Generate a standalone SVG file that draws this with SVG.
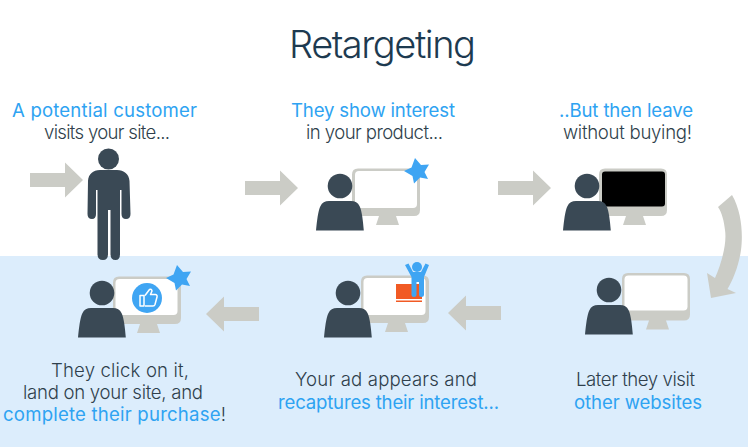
<svg xmlns="http://www.w3.org/2000/svg" xmlns:xlink="http://www.w3.org/1999/xlink" width="748" height="447" viewBox="0 0 748 447">
<style>
text{font-family:"Inter","Open Sans","Liberation Sans",sans-serif;font-weight:300;font-size:18.6px;fill:#2f3f4c}
.b{fill:#2ea3f2;font-weight:400}
.t{font-size:38px;fill:#1d3a50}
.a{fill:#cbccc6}
.p{fill:#3a4955}
.s{fill:#3fa5f3}
</style>
<defs>
<g id="arrow"><path class="a" d="M0-7H35V-17.500L53 0 35 17.500V7H0Z"/></g>
<g id="person"><circle class="p" cx="340" cy="186" r="12.300"/><path class="p" d="M316 230.500C317 221 318 211 320.500 206 322 202.500 325 201 329 201H351C355 201 358 202.500 359.500 206 362 211 363 221 363.800 230.500Z"/></g>
<g id="monitor"><path class="a" d="M358 168.500H414Q420 168.500 420 174.500V210Q420 216 414 216H396L399 225H376L379 216H358Q352 216 352 210V174.500Q352 168.500 358 168.500Z"/></g>
<path id="star" class="s" d="M415 158 421 165 429 164.500 424.500 172 428 179 420 177.500 414 183.500 412.500 176 404 171 411.500 167.500Z"/>
</defs>
<rect width="748" height="447" fill="#fff"/>
<rect y="256" width="748" height="191" fill="#dcedfc"/>
<text id="title" class="t" x="289" y="58" textLength="187">Retargeting</text>
<g id="connectors">
<use xlink:href="#arrow" x="30" y="180"/>
<use xlink:href="#arrow" x="245" y="188"/>
<use xlink:href="#arrow" x="498" y="188"/>
<path class="a" d="M718 207 732 195C742 212 743 235 741 250 739 265 733 280 727.500 289L736 293 711 298 707 273 715 278C722 262 727 243 725 230 724 221 722 213 718 207Z"/>
<use xlink:href="#arrow" transform="translate(501 313) scale(-1 1)"/>
<use xlink:href="#arrow" transform="translate(259 314) scale(-1 1)"/>
</g>
<g id="node1">
<text class="b" x="12" y="117" textLength="185">A potential customer</text>
<text x="44" y="139" textLength="126">visits your site...</text>
<circle class="p" cx="108.500" cy="159" r="10.500"/>
<path class="p" d="M100 170H117C124 170 129 174 129.500 181L130.500 214Q130.500 219 126 219 121.500 219 121.500 214V190H120V254Q120 260 115.500 260 110.500 260 110.500 254V210H108V254Q108 260 103 260 97.500 260 97.500 254V190H96V214Q96 219 92 219 87.500 219 87.500 214L88 181C88.500 174 93 170 100 170Z"/>
</g>
<g id="node2">
<text class="b" x="291" y="117" textLength="164">They show interest</text>
<text x="306" y="139" textLength="137">in your product...</text>
<use xlink:href="#monitor"/>
<rect x="355" y="171" width="62" height="37" rx="4" fill="#fff"/>
<use xlink:href="#person"/>
<use xlink:href="#star"/>
</g>
<g id="node3">
<text class="b" x="559" y="117" textLength="134">..But then leave</text>
<text x="563" y="139" textLength="129">without buying!</text>
<use xlink:href="#monitor" x="247"/>
<rect x="602" y="171.500" width="63" height="35" rx="3" fill="#000"/>
<use xlink:href="#person" x="247"/>
</g>
<g id="node4">
<text x="576" y="386" textLength="119">Later they visit</text>
<text class="b" x="574" y="409" textLength="128">other websites</text>
<use xlink:href="#monitor" x="270" y="104.500"/>
<rect x="624.500" y="275.500" width="63" height="35" rx="4" fill="#fff"/>
<use xlink:href="#person" x="269" y="104"/>
</g>
<g id="node5">
<text x="295" y="386" textLength="182">Your ad appears and</text>
<text class="b" x="278" y="409" textLength="221">recaptures their interest...</text>
<use xlink:href="#monitor" x="9" y="107"/>
<rect x="363.500" y="278" width="62" height="37" rx="4" fill="#fff"/>
<rect x="396" y="284" width="26" height="15" fill="#f15a24"/>
<rect x="396" y="300.500" width="26" height="1.500" fill="#f15a24"/>
<use xlink:href="#person" x="8" y="107"/>
<circle class="s" cx="417" cy="267" r="5"/>
<path class="s" d="M405 265 408.500 263.500 413 272H421L425.500 263.500 429 265 424 277V295Q424 297 421.500 297 419 297 419 295V282H416.500V295Q416.500 297 414 297 411.500 297 411.500 295V277Z"/>
</g>
<g id="node6">
<text x="51" y="377" textLength="138">They click on it,</text>
<text x="23" y="399" textLength="180">land on your site, and</text>
<text x="3" y="421" textLength="223"><tspan class="b">complete their purchase</tspan>!</text>
<use xlink:href="#monitor" x="-239" y="108"/>
<rect x="115.500" y="279" width="62" height="36" rx="4" fill="#fff"/>
<use xlink:href="#person" x="-238" y="107"/>
<use xlink:href="#star" x="-238" y="107"/>
<circle class="s" cx="147" cy="298" r="15"/>
<path d="M140 295.500V306H144V295.500ZM145 295.500 149.500 289.500Q151.500 288.500 152 291L150.500 294.500H155.500Q157.500 295 157 297L155 304.500Q154.500 306 153 306H145" fill="none" stroke="#fff" stroke-width="1.500" stroke-linejoin="round"/>
</g>
</svg>
